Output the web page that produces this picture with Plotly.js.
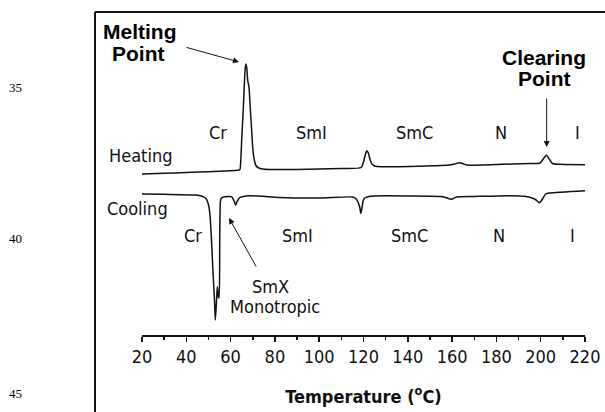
<!DOCTYPE html>
<html>
<head>
<meta charset="utf-8">
<script src="https://cdn.plot.ly/plotly-3.0.1.min.js"></script>
<style>html,body{margin:0;padding:0;background:#fff;}#chart{width:605px;height:412px;}</style>
</head>
<body>
<div id="chart"></div>
<script>
// Temperature (°C) and heat flow (arbitrary units)
var heatingT = [20, 30, 40, 50, 60, 63, 64.2, 64.6, 65.0, 65.7, 66.4, 66.8, 67.3, 67.7, 68.3, 68.8, 69.5, 70.0, 70.7, 71.3, 72.7, 75.4, 90, 100, 110, 119, 120, 120.8, 121.5, 122.2, 123, 124, 125.5, 130, 145, 158.9, 161, 163.5, 165, 166.5, 180, 195, 199.5, 201, 202.6, 204, 205.3, 208.6, 220];
var heatingQ = [161, 161.7, 162.5, 163.3, 164.2, 164.7, 165.5, 175, 195, 225, 260, 271, 267, 255, 248, 230, 205, 187, 175, 170, 167, 165.7, 165.5, 166, 166.5, 167.5, 173, 180, 184.3, 182, 175, 170.5, 168.7, 168.2, 168.8, 170, 171, 172.3, 171.2, 170, 170.5, 171.5, 171.7, 175.5, 179.7, 175.5, 171.5, 170.7, 170.3];

var coolingT = [20, 30, 44.6, 46.8, 48.8, 49.8, 50.6, 51.3, 52.0, 52.8, 53.1, 53.6, 54.0, 54.5, 54.8, 55.1, 55.4, 55.8, 57.3, 60.4, 61.4, 62.3, 62.9, 64.1, 68.6, 82, 100, 115, 116.5, 117.5, 118.3, 118.8, 119.3, 119.8, 120.5, 122, 125, 140, 155.9, 159.7, 162, 170, 186, 192.8, 196.1, 197.9, 199.5, 200.8, 202.2, 204, 220];
var coolingQ = [141, 140.7, 140, 139, 136.7, 132, 122, 98.3, 65, 32, 15, 32, 48.3, 38.3, 37, 98.3, 133.3, 136.7, 138.3, 138.3, 135, 130, 133.3, 137.3, 139.3, 137.5, 137, 138, 136.5, 133, 128, 121.7, 127, 134, 137, 138.3, 139, 139, 138.3, 135.7, 138, 138.5, 139.3, 138.7, 137, 135, 132.3, 136, 141, 142, 144.3];

var tickVals = [20, 40, 60, 80, 100, 120, 140, 160, 180, 200, 220];

var L = 142, R = 20, T = 35, B = 77, W = 605, H = 412;
var pw = W - L - R, ph = H - T - B;
function px(x) { return (x - L) / pw; }
function py(y) { return (H - B - y) / ph; }

var lblFont = {family: 'DejaVu Sans Condensed, DejaVu Sans, sans-serif', size: 18, color: '#111'};
var boldFont = {family: 'Liberation Sans, Arial, sans-serif', size: 21, color: '#000', weight: 'bold'};
var serifFont = {family: 'Liberation Serif, Times New Roman, serif', size: 13, color: '#000'};

function lbl(text, x, y, font) {
  return {text: text, xref: 'paper', yref: 'paper', x: px(x), y: py(y), xanchor: 'center', yanchor: 'middle', showarrow: false, font: font || lblFont};
}

var annotations = [
  lbl('<b>Melting</b>', 139.5, 32, boldFont),
  lbl('<b>Point</b>', 138, 53, boldFont),
  lbl('<b>Clearing</b>', 544, 57, boldFont),
  lbl('<b>Point</b>', 544, 78, boldFont),
  lbl('Heating', 140.5, 155),
  lbl('Cr', 217.5, 132),
  lbl('SmI', 311, 132),
  lbl('SmC', 414, 132),
  lbl('N', 500.5, 132),
  lbl('I', 577.3, 132),
  lbl('Cooling', 137.5, 208),
  lbl('Cr', 193, 235),
  lbl('SmI', 297, 235),
  lbl('SmC', 409.5, 235),
  lbl('N', 498.5, 235),
  lbl('I', 572.7, 235),
  lbl('SmX', 270.5, 286),
  lbl('Monotropic', 274.5, 306.7),
  // line numbers of the page
  lbl('35', 15.5, 87, serifFont),
  lbl('40', 15.5, 239, serifFont),
  lbl('45', 15.5, 393, serifFont),
  // arrows
  {text: '', xref: 'paper', yref: 'paper', x: px(239), y: py(62), ax: -54, ay: -15, showarrow: true, arrowhead: 2, arrowsize: 1.2, arrowwidth: 1, arrowcolor: '#111'},
  {text: '', xref: 'paper', yref: 'paper', x: px(546.7), y: py(147), ax: 0, ay: -50, showarrow: true, arrowhead: 2, arrowsize: 1.2, arrowwidth: 1, arrowcolor: '#111'},
  {text: '', xref: 'paper', yref: 'paper', x: px(229), y: py(218), ax: 28, ay: 50, showarrow: true, arrowhead: 2, arrowsize: 1.2, arrowwidth: 1, arrowcolor: '#111'}
];

var shapes = [
  {type: 'line', xref: 'paper', yref: 'paper', x0: px(95), x1: px(95), y0: py(12), y1: py(413), line: {color: '#111', width: 2}},
  {type: 'line', xref: 'paper', yref: 'paper', x0: px(95), x1: px(606), y0: py(12), y1: py(12), line: {color: '#111', width: 2}}
];

var traces = [
  {x: heatingT, y: heatingQ, type: 'scatter', mode: 'lines', line: {color: '#111', width: 1.5, shape: 'spline', smoothing: 0.6}, name: 'Heating', hoverinfo: 'x+y'},
  {x: coolingT, y: coolingQ, type: 'scatter', mode: 'lines', line: {color: '#111', width: 1.5, shape: 'spline', smoothing: 0.6}, name: 'Cooling', hoverinfo: 'x+y'}
];

var layout = {
  width: W, height: H,
  margin: {l: L, r: R, t: T, b: B, pad: 0},
  paper_bgcolor: '#fff', plot_bgcolor: '#fff',
  showlegend: false,
  xaxis: {
    range: [20, 220], tickvals: tickVals, ticktext: tickVals.map(String),
    showline: true, linecolor: '#111', linewidth: 1.5,
    ticks: 'outside', ticklen: 5, tickwidth: 1.5, tickcolor: '#111',
    minor: {dtick: 10, tick0: 20, ticks: 'outside', ticklen: 3, tickwidth: 1.5, tickcolor: '#111'},
    showgrid: false, zeroline: false,
    tickfont: {family: 'DejaVu Sans Condensed, DejaVu Sans, sans-serif', size: 18, color: '#111'},
    title: {text: '<b>Temperature (<sup>o</sup>C)</b>', standoff: 24, font: {family: 'DejaVu Sans Condensed, DejaVu Sans, sans-serif', size: 18, color: '#111'}}
  },
  yaxis: {range: [0, 300], visible: false, fixedrange: true},
  annotations: annotations,
  shapes: shapes
};

Plotly.newPlot('chart', traces, layout, {displayModeBar: false, staticPlot: true});
</script>
</body>
</html>
